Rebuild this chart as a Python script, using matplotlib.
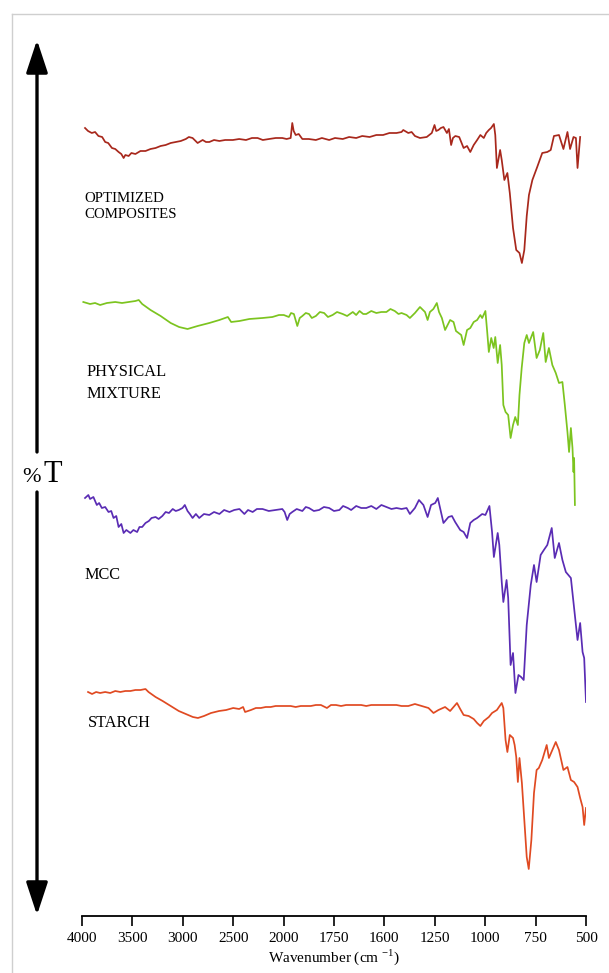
import numpy as np
import matplotlib.pyplot as plt
from matplotlib.lines import Line2D

plt.rcParams['font.family'] = ['Liberation Serif', 'DejaVu Serif']
plt.rcParams['mathtext.fontset'] = 'custom'
plt.rcParams['mathtext.rm'] = 'Liberation Serif'

# x axis of the original is not linear: evenly spaced labels
TICK_WN = [4000, 3500, 3000, 2500, 2000, 1750, 1600, 1250, 1000, 750, 500]

# spectra (wavenumber, %T with stacking offset)
OC_WN = [3970, 3940, 3903, 3870, 3837, 3800, 3770, 3740, 3703, 3670, 3637, 3610, 3587, 3570,
         3537, 3510, 3470, 3420, 3370, 3320, 3270, 3220, 3170, 3120, 3070, 3020, 2970, 2940,
         2903, 2853, 2803, 2770, 2737, 2690, 2637, 2580, 2503, 2441, 2373, 2314, 2258, 2206,
         2144, 2078, 2013, 1985, 1965, 1957, 1950, 1940, 1925, 1907, 1875, 1840, 1810, 1774,
         1747, 1724, 1705, 1684, 1666, 1644, 1624, 1604, 1565, 1516, 1481, 1469, 1434, 1411,
         1388, 1353, 1306, 1271, 1252, 1243, 1232, 1220, 1207, 1190, 1180, 1169, 1160, 1148,
         1129, 1107, 1090, 1074, 1057, 1040, 1024, 1007, 995, 982, 971, 957, 950, 942, 926,
         918, 905, 890, 878, 862, 846, 830, 818, 806, 794, 783, 766, 742, 717, 692, 675, 659,
         634, 612, 592, 579, 562, 550, 542, 529]
OC_T = [78.8, 78.5, 78.3, 78.4, 78.0, 77.9, 77.4, 77.3, 76.8, 76.7, 76.4, 76.2, 75.8, 76.1,
        76.0, 76.3, 76.2, 76.5, 76.5, 76.7, 76.8, 77.0, 77.1, 77.3, 77.4, 77.5, 77.7, 77.9,
        77.8, 77.3, 77.6, 77.4, 77.4, 77.6, 77.5, 77.6, 77.6, 77.7, 77.6, 77.8, 77.8, 77.6,
        77.7, 77.8, 77.8, 77.7, 77.8, 79.3, 78.5, 78.1, 78.2, 77.7, 77.7, 77.6, 77.8, 77.6,
        77.8, 77.7, 77.9, 77.8, 78.0, 77.9, 78.1, 78.1, 78.3, 78.3, 78.4, 78.6, 78.3, 78.4,
        78.0, 77.8, 77.9, 78.3, 79.1, 78.5, 78.6, 78.8, 78.9, 78.3, 78.7, 77.1, 77.8, 78.0,
        77.9, 76.8, 77.0, 76.4, 77.1, 77.6, 78.1, 77.8, 78.3, 78.6, 78.8, 79.2, 78.1, 74.8, 76.6,
        75.6, 73.6, 74.3, 72.3, 68.8, 66.6, 66.3, 65.3, 66.6, 70.0, 72.1, 73.6, 74.9, 76.3,
        76.4, 76.6, 78.0, 78.1, 76.7, 78.4, 76.7, 77.9, 77.8, 74.8, 77.9]

PM_WN = [3987, 3920, 3870, 3820, 3753, 3670, 3603, 3537, 3470, 3437, 3403, 3320, 3220, 3120,
         3037, 2953, 2853, 2737, 2637, 2553, 2520, 2438, 2340, 2209, 2111, 2046, 1999, 1974,
         1963, 1949, 1932, 1920, 1907, 1890, 1874, 1860, 1840, 1820, 1799, 1780, 1757, 1741,
         1724, 1711, 1694, 1684, 1674, 1663, 1654, 1639, 1624, 1609, 1586, 1558, 1528, 1502,
         1481, 1446, 1423, 1388, 1353, 1318, 1300, 1284, 1260, 1240, 1229, 1215, 1199, 1174,
         1157, 1145, 1132, 1119, 1107, 1090, 1074, 1057, 1040, 1024, 1015, 999, 990, 982, 970,
         958, 950, 938, 926, 918, 910, 899, 886, 874, 862, 851, 838, 830, 819, 806, 794, 783,
         762, 745, 729, 712, 700, 684, 667, 650, 634, 617, 605, 592, 584, 575, 567, 562, 559,
         555]
PM_T = [61.4, 61.2, 61.3, 61.1, 61.3, 61.4, 61.3, 61.4, 61.5, 61.6, 61.2, 60.6, 60.0, 59.3,
        58.9, 58.7, 59.0, 59.3, 59.6, 59.9, 59.4, 59.5, 59.7, 59.8, 59.9, 60.1, 60.1, 59.9,
        60.3, 60.2, 59.0, 59.8, 60.0, 60.3, 60.2, 59.8, 60.0, 60.4, 60.3, 59.9, 60.1, 60.4,
        60.2, 60.0, 60.4, 60.1, 60.5, 60.2, 60.2, 60.5, 60.3, 60.4, 60.4, 60.7, 60.5, 60.2,
        60.3, 60.1, 59.8, 60.3, 60.9, 60.4, 59.6, 60.4, 60.7, 61.3, 60.4, 59.8, 58.6, 59.6,
        59.4, 58.5, 58.3, 58.1, 57.1, 58.6, 58.8, 59.4, 59.6, 60.1, 59.8, 60.5, 58.4, 56.4, 57.8,
        56.8, 57.9, 55.3, 57.1, 55.1, 51.1, 50.4, 50.1, 47.8, 49.1, 49.9, 49.1, 52.1, 54.8, 57.3,
        58.1, 57.3, 58.4, 55.8, 56.6, 58.3, 55.4, 56.8, 55.1, 54.3, 53.3, 53.4, 51.1, 48.4,
        46.4, 48.8, 46.8, 44.4, 45.8, 41.1]

MCC_WN = [3970, 3937, 3920, 3887, 3853, 3830, 3803, 3770, 3737, 3710, 3687, 3660, 3637, 3610,
          3587, 3560, 3520, 3490, 3453, 3430, 3403, 3370, 3337, 3310, 3270, 3240, 3203, 3170,
          3137, 3100, 3070, 3040, 3003, 2980, 2953, 2930, 2903, 2870, 2837, 2790, 2737, 2690,
          2637, 2590, 2537, 2490, 2438, 2389, 2353, 2307, 2265, 2209, 2147, 2078, 2013, 1995,
          1982, 1970, 1957, 1935, 1907, 1890, 1874, 1850, 1824, 1800, 1774, 1750, 1734, 1723,
          1709, 1699, 1684, 1669, 1654, 1639, 1624, 1609, 1586, 1551, 1516, 1481, 1446, 1423,
          1388, 1360, 1329, 1300, 1276, 1248, 1235, 1224, 1207, 1182, 1165, 1149, 1124, 1107,
          1090, 1074, 1057, 1040, 1015, 999, 979, 966, 957, 938, 930, 918, 910, 894, 886, 874,
          862, 850, 835, 822, 809, 794, 774, 758, 745, 725, 709, 692, 670, 655, 634, 617, 600,
          575, 559, 542, 529, 517, 509, 500]
MCC_T = [41.8, 42.1, 41.7, 41.9, 41.1, 41.3, 40.8, 40.9, 40.4, 40.5, 39.8, 40.0, 38.9, 39.2,
         38.3, 38.6, 38.3, 38.6, 38.4, 38.9, 38.9, 39.3, 39.5, 39.8, 39.9, 39.7, 40.0, 40.4,
         40.3, 40.7, 40.5, 40.6, 40.8, 41.1, 40.5, 40.2, 39.8, 40.2, 39.8, 40.2, 40.1, 40.4,
         40.2, 40.6, 40.4, 40.6, 40.7, 40.2, 40.6, 40.4, 40.7, 40.7, 40.5, 40.6, 40.7, 40.4,
         39.6, 40.2, 40.4, 40.7, 40.5, 40.9, 40.8, 40.5, 40.6, 40.9, 40.8, 40.5, 40.6, 41.0,
         40.8, 40.6, 41.0, 40.8, 40.8, 41.0, 40.7, 41.1, 40.9, 40.7, 40.8, 40.7, 40.8, 40.2,
         40.8, 41.6, 41.1, 39.9, 41.1, 41.3, 41.8, 40.8, 39.3, 39.9, 40.0, 39.4, 38.6, 38.4,
         37.8, 39.3, 39.6, 39.8, 40.2, 40.1, 41.0, 38.4, 35.9, 38.3, 37.1, 33.4, 31.4, 33.6,
         31.8, 25.1, 26.3, 22.3, 24.1, 23.9, 23.6, 29.1, 33.1, 35.1, 33.4, 36.1, 36.6, 37.1,
         38.8, 35.8, 37.3, 35.6, 34.4, 33.8, 30.8, 27.6, 29.3, 26.4, 25.8, 21.4]

STARCH_WN = [3940, 3900, 3860, 3820, 3770, 3720, 3670, 3620, 3570, 3520, 3470, 3420, 3370,
             3340, 3270, 3200, 3120, 3040, 2970, 2900, 2850, 2790, 2720, 2640, 2570, 2500,
             2441, 2402, 2382, 2324, 2275, 2226, 2177, 2128, 2079, 2029, 1990, 1965, 1940,
             1915, 1890, 1865, 1840, 1815, 1795, 1785, 1765, 1744, 1729, 1714, 1699, 1684,
             1669, 1654, 1639, 1624, 1609, 1586, 1551, 1516, 1481, 1434, 1388, 1341, 1294,
             1259, 1232, 1199, 1174, 1157, 1140, 1124, 1107, 1082, 1057, 1040, 1024, 1007, 982,
             966, 942, 918, 910, 899, 890, 878, 862, 854, 846, 838, 830, 818, 806, 794, 784,
             771, 758, 745, 734, 717, 695, 684, 667, 650, 634, 612, 592, 575, 559, 542, 529,
             517, 509, 500]
STARCH_T = [22.4, 22.2, 22.4, 22.3, 22.4, 22.3, 22.5, 22.4, 22.5, 22.5, 22.6, 22.6, 22.7,
            22.4, 21.9, 21.5, 21.0, 20.5, 20.2, 19.9, 19.8, 20.0, 20.3, 20.5, 20.6, 20.8,
            20.7, 20.9, 20.4, 20.6, 20.8, 20.8, 20.9, 20.9, 21.0, 21.0, 21.0, 21.0, 20.9,
            21.0, 21.0, 21.0, 21.1, 21.1, 20.9, 20.8, 21.1, 21.1, 21.0, 21.1, 21.1, 21.1,
            21.1, 21.0, 21.1, 21.1, 21.1, 21.1, 21.1, 21.1, 21.0, 21.0, 21.2, 21.0, 20.8,
            20.3, 20.6, 20.9, 20.5, 20.9, 21.3, 20.7, 20.1, 20.0, 19.7, 19.3, 19.0, 19.5, 19.9,
            20.3, 20.6, 21.3, 20.8, 17.6, 16.4, 18.1, 17.8, 17.1, 15.9, 13.4, 15.8, 13.3, 9.6,
            5.9, 4.7, 7.6, 12.3, 14.6, 14.8, 15.6, 17.1, 15.8, 16.6, 17.4, 16.6, 14.6, 14.9,
            13.6, 13.4, 12.9, 11.8, 10.9, 9.1, 10.8]

SERIES = [
    ('OPTIMIZED\nCOMPOSITES', OC_WN, OC_T, '#a8281c', 71.0, 3980, 10.7, 1.3),
    ('PHYSICAL\nMIXTURE', PM_WN, PM_T, '#7cc41f', 53.3, 3960, 11.8, 1.5),
    ('MCC', MCC_WN, MCC_T, '#5a2cb4', 34.1, 3980, 11.7, 1.2),
    ('STARCH', STARCH_WN, STARCH_T, '#e04a22', 19.3, 3940, 11.7, 1.2),
]

# ticks in increasing order, mapped to even steps
WN_UP = TICK_WN[::-1]
POS_UP = np.arange(len(WN_UP))


def wn_to_pos(w):
    return np.interp(w, WN_UP, POS_UP)


def pos_to_wn(p):
    return np.interp(p, POS_UP, WN_UP)


W, H = 609, 973
fig = plt.figure(figsize=(W / 100, H / 100), dpi=100)
ax = fig.add_axes([82 / W, (H - 916) / H, 504 / W, 902 / H])
ax.set_xscale('function', functions=(wn_to_pos, pos_to_wn))

for name, wn, t, color, ly, lx, fs, sp in SERIES:
    ax.plot(wn, t, color=color, lw=1.25)
    ax.text(lx, ly, name, fontsize=fs, va='center', ha='left', linespacing=sp,
            color='black')

ax.set_xlim(500, 4000)
ax.invert_xaxis()
ax.set_ylim(0, 90.2)
ax.set_xticks(TICK_WN)
ax.set_xticklabels([str(v) for v in TICK_WN])
ax.xaxis.set_minor_locator(plt.NullLocator())
ax.set_yticks([])
for side in ['left', 'top', 'right']:
    ax.spines[side].set_visible(False)
ax.spines['bottom'].set_linewidth(1.3)
ax.tick_params(axis='x', direction='out', length=7.5, width=1.2, labelsize=11, pad=4)
ax.set_xlabel(r'Wavenumber (cm $^{\mathregular{-1}}$)', fontsize=11, labelpad=2)

# % T double arrow on the left
arrow = dict(arrowstyle='-|>,head_width=0.33,head_length=1.0', mutation_scale=20,
             lw=2.4, color='black', shrinkA=0, shrinkB=0)
ax.annotate('', xy=(37, H - 40), xytext=(37, H - 452), xycoords='figure pixels',
            textcoords='figure pixels', arrowprops=arrow)
ax.annotate('', xy=(37, H - 915), xytext=(37, H - 492), xycoords='figure pixels',
            textcoords='figure pixels', arrowprops=arrow)
fig.text(22 / W, (H - 477) / H, '%', fontsize=16, va='center', ha='left')
fig.text(44 / W, (H - 475) / H, 'T', fontsize=22, va='center', ha='left')

# light frame at top and left
fig.add_artist(Line2D([12 / W, 1], [(H - 14) / H] * 2, color='#cfcfcf', lw=1))
fig.add_artist(Line2D([12 / W] * 2, [0, (H - 14) / H], color='#cfcfcf', lw=1))

fig.savefig('out.png', dpi=100)
